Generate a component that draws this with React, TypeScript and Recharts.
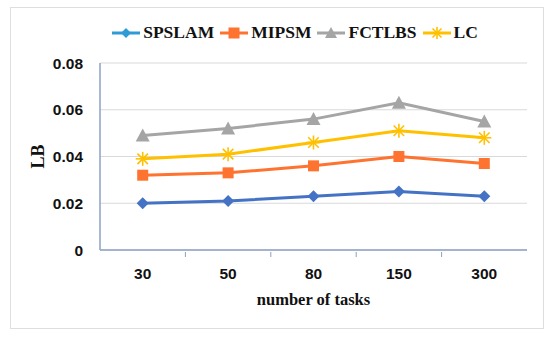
import React from 'react';
import { LineChart, Line, XAxis, YAxis, CartesianGrid } from 'recharts';

const categories = ['30', '50', '80', '150', '300'];
const spslam = [0.02, 0.021, 0.023, 0.025, 0.023];
const mipsm = [0.032, 0.033, 0.036, 0.04, 0.037];
const fctlbs = [0.049, 0.052, 0.056, 0.063, 0.055];
const lc = [0.039, 0.041, 0.046, 0.051, 0.048];
const yTicks = [0, 0.02, 0.04, 0.06, 0.08];

const data = categories.map((c, i) => ({
  tasks: c,
  SPSLAM: spslam[i],
  MIPSM: mipsm[i],
  FCTLBS: fctlbs[i],
  LC: lc[i],
}));

const colors = {
  SPSLAM: '#4472C4',
  MIPSM: '#FF7330',
  FCTLBS: '#A5A5A5',
  LC: '#FFC000',
};
const legendColors = {
  SPSLAM: '#2E9BD6',
  MIPSM: '#FF7330',
  FCTLBS: '#A5A5A5',
  LC: '#FFC000',
};

const frame = '#8CA0C4';
const serif = '"Liberation Serif", "Times New Roman", serif';
const sans = '"Liberation Sans", Arial, sans-serif';

type Shape = 'diamond' | 'square' | 'triangle' | 'star';

function marker(shape: Shape, cx: number, cy: number, color: string, s: number) {
  if (shape === 'diamond') {
    return <polygon points={`${cx},${cy - s} ${cx + s},${cy} ${cx},${cy + s} ${cx - s},${cy}`} fill={color} />;
  }
  if (shape === 'square') {
    return <rect x={cx - s} y={cy - s} width={s * 2} height={s * 2} fill={color} />;
  }
  if (shape === 'triangle') {
    return <polygon points={`${cx},${cy - s - 1} ${cx + s + 1},${cy + s} ${cx - s - 1},${cy + s}`} fill={color} />;
  }
  const r = s + 1;
  return (
    <g stroke={color} strokeWidth={1.6}>
      <line x1={cx - r} y1={cy} x2={cx + r} y2={cy} />
      <line x1={cx} y1={cy - r} x2={cx} y2={cy + r} />
      <line x1={cx - r * 0.75} y1={cy - r * 0.75} x2={cx + r * 0.75} y2={cy + r * 0.75} />
      <line x1={cx - r * 0.75} y1={cy + r * 0.75} x2={cx + r * 0.75} y2={cy - r * 0.75} />
    </g>
  );
}

const makeDot = (shape: Shape, color: string) => (props: any) => {
  const { cx, cy, index } = props;
  if (cx == null || cy == null) return <g key={index} />;
  return <g key={`${shape}-${index}`}>{marker(shape, cx, cy, color, shape === 'square' ? 5.5 : 6)}</g>;
};

const series: { key: keyof typeof colors; shape: Shape }[] = [
  { key: 'SPSLAM', shape: 'diamond' },
  { key: 'MIPSM', shape: 'square' },
  { key: 'FCTLBS', shape: 'triangle' },
  { key: 'LC', shape: 'star' },
];

const XTick = (props: any) => {
  const { x, y, payload, index } = props;
  const half = 427 / 10;
  return (
    <g>
      {index > 0 && <line x1={x - half} y1={y - 1} x2={x - half} y2={y - 6} stroke={frame} strokeWidth={1} />}
      <text x={x} y={y + 21} textAnchor="middle" fontFamily={sans} fontWeight="bold" fontSize={15.5} fill="#111">
        {payload.value}
      </text>
    </g>
  );
};

export default function App() {
  return (
    <div style={{ position: 'absolute', left: 0, top: 0, width: 550, height: 337, background: '#fff' }}>
      <div
        style={{
          position: 'absolute',
          left: 10,
          top: 7,
          width: 532,
          height: 320,
          border: '1.5px solid #DEDEDE',
        }}
      />
      <div
        style={{
          position: 'absolute',
          top: 22,
          left: 0,
          width: 594,
          display: 'flex',
          justifyContent: 'center',
          alignItems: 'center',
          fontFamily: serif,
          fontWeight: 'bold',
          fontSize: 17.5,
          color: '#111',
        }}
      >
        {series.map((s) => (
          <div key={s.key} style={{ display: 'flex', alignItems: 'center', marginRight: 5 }}>
            <svg width={30} height={20}>
              <line x1={1} y1={10} x2={29} y2={10} stroke={legendColors[s.key]} strokeWidth={3} />
              {marker(s.shape, 15, 10, legendColors[s.key], s.shape === 'square' ? 5.5 : 5)}
            </svg>
            <span style={{ marginLeft: 2 }}>{s.key}</span>
          </div>
        ))}
      </div>
      <LineChart
        width={550}
        height={337}
        data={data}
        margin={{ top: 63, right: 23, bottom: 27, left: 0 }}
        style={{ position: 'absolute', left: 0, top: 0 }}
      >
        <CartesianGrid vertical={false} stroke="#D9D9D9" strokeWidth={1.2} />
        <XAxis
          dataKey="tasks"
          scale="band"
          height={60}
          axisLine={{ stroke: frame, strokeWidth: 1.5 }}
          tickLine={false}
          tick={<XTick />}
          interval={0}
          label={{
            value: 'number of tasks',
            position: 'insideBottom',
            offset: 5,
            style: { fontFamily: serif, fontWeight: 'bold', fontSize: 16.5, fill: '#111' },
          }}
        />
        <XAxis xAxisId="top" orientation="top" dataKey="tasks" height={0} tick={false} tickLine={false} axisLine={{ stroke: frame, strokeWidth: 1.5 }} />
        <YAxis
          width={100}
          domain={[0, 0.08]}
          ticks={yTicks}
          tickFormatter={(v) => (v === 0 ? '0' : Number(v).toFixed(2))}
          axisLine={{ stroke: frame, strokeWidth: 1.5 }}
          tickLine={false}
          tickSize={0}
          tickMargin={17}
          tick={{ fontFamily: sans, fontWeight: 'bold', fontSize: 15.5, fill: '#111' }}
          label={({ viewBox }: any) => {
            const cx = viewBox.x + 38;
            const cy = viewBox.y + viewBox.height / 2;
            return (
              <text
                x={cx}
                y={cy}
                transform={`rotate(-90 ${cx} ${cy})`}
                textAnchor="middle"
                dominantBaseline="central"
                fontFamily={serif}
                fontWeight="bold"
                fontSize={18}
                fill="#111"
              >
                LB
              </text>
            );
          }}
        />
        <YAxis yAxisId="right" orientation="right" width={0} tick={false} tickLine={false} axisLine={{ stroke: frame, strokeWidth: 1.5 }} />
        {series.map((s) => (
          <Line
            key={s.key}
            type="linear"
            dataKey={s.key}
            stroke={colors[s.key]}
            strokeWidth={3}
            dot={makeDot(s.shape, colors[s.key])}
            activeDot={false}
            isAnimationActive={false}
          />
        ))}
      </LineChart>
    </div>
  );
}
